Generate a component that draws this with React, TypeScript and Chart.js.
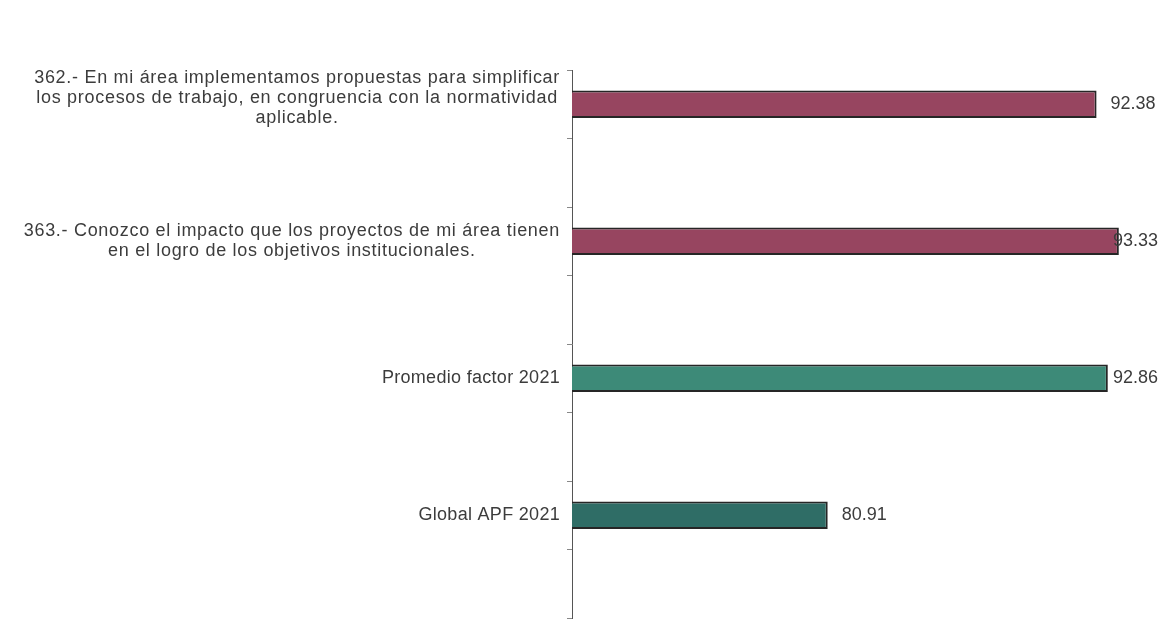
import React, { useEffect, useRef } from "react";
import { Chart, registerables } from "chart.js";

Chart.register(...registerables);

const categories: (string | string[])[] = [
  [
    "362.- En mi área implementamos propuestas para simplificar",
    "los procesos de trabajo, en congruencia con la normatividad",
    "aplicable.",
  ],
  [
    "363.- Conozco el impacto que los proyectos de mi área tienen",
    "en el logro de los objetivos institucionales.",
  ],
  "Promedio factor 2021",
  "Global APF 2021",
];
const values = [92.38, 93.33, 92.86, 80.91];
const barColors = ["#974560", "#974560", "#3d8a78", "#2f6d66"];
const xMin = 70;
const xMax = 95;

const FONT = '"Liberation Sans", Arial, sans-serif';
const TEXT_COLOR = "#3c3c3c";

// Each category occupies two slots: the bar sits in the first, the second is empty.
const slotLabels: (string | string[])[] = [];
const slotValues: (number | null)[] = [];
const slotColors: string[] = [];
categories.forEach((c, i) => {
  slotLabels.push(c, "");
  slotValues.push(values[i], null);
  slotColors.push(barColors[i], barColors[i]);
});

const labelPlugin = {
  id: "blockLabels",
  afterDraw(chart: any) {
    const { ctx, chartArea } = chart;
    const yScale = chart.scales.y;
    const labels = chart.data.labels as (string | string[])[];
    ctx.save();
    ctx.font = `18px ${FONT}`;
    ctx.fillStyle = TEXT_COLOR;
    ctx.textBaseline = "middle";
    ctx.textAlign = "center";
    const lineH = 20;
    labels.forEach((lab, i) => {
      if (!lab || (Array.isArray(lab) && lab.length === 0)) return;
      const lines = Array.isArray(lab) ? lab : [lab];
      ctx.letterSpacing = lines.length > 1 ? "0.7px" : "0.3px";
      const w = Math.max(...lines.map((l) => ctx.measureText(l).width));
      const right = chartArea.left - 12;
      const cx = right - w / 2;
      const cy = yScale.getPixelForValue(i) - (lines.length > 2 ? 6 : 0);
      const top = cy - ((lines.length - 1) * lineH) / 2;
      lines.forEach((l, k) => ctx.fillText(l, cx, top + k * lineH));
    });
    // value labels
    ctx.letterSpacing = "0px";
    const meta = chart.getDatasetMeta(0);
    ctx.textAlign = "left";
    meta.data.forEach((bar: any, i: number) => {
      const v = chart.data.datasets[0].data[i];
      if (v === null || v === undefined) return;
      const txt = Number(v).toFixed(2);
      const tw = ctx.measureText(txt).width;
      const x = Math.min(bar.x + 14, chartArea.right - tw);
      ctx.fillText(txt, x, bar.y);
    });
    ctx.restore();
  },
};

export default function App() {
  const ref = useRef<HTMLCanvasElement | null>(null);
  useEffect(() => {
    if (!ref.current) return;
    const chart = new Chart(ref.current, {
      type: "bar",
      data: {
        labels: slotLabels,
        datasets: [
          {
            data: slotValues,
            backgroundColor: slotColors,
            borderColor: "#262626",
            borderWidth: 2,
            borderSkipped: false,
            categoryPercentage: 1,
            barPercentage: 0.4,
          },
        ],
      },
      options: {
        indexAxis: "y",
        animation: false,
        responsive: true,
        maintainAspectRatio: false,
        layout: { padding: { top: 70, bottom: 6, right: 3, left: 0 } },
        plugins: {
          legend: { display: false },
          tooltip: { enabled: false },
        },
        scales: {
          x: {
            display: false,
            min: xMin,
            max: xMax,
          },
          y: {
            offset: true,
            ticks: { display: false },
            grid: {
              offset: true,
              drawOnChartArea: false,
              drawTicks: true,
              tickLength: 5,
              color: "#888",
            },
            border: { display: true, color: "#555", width: 1 },
            afterFit: (scale: any) => {
              scale.width = 572;
            },
          },
        },
      },
      plugins: [labelPlugin],
    });
    return () => chart.destroy();
  }, []);
  return (
    <div
      style={{
        position: "fixed",
        left: 0,
        top: 0,
        width: 1161,
        height: 624,
        background: "#ffffff",
      }}
    >
      <canvas ref={ref} />
    </div>
  );
}
